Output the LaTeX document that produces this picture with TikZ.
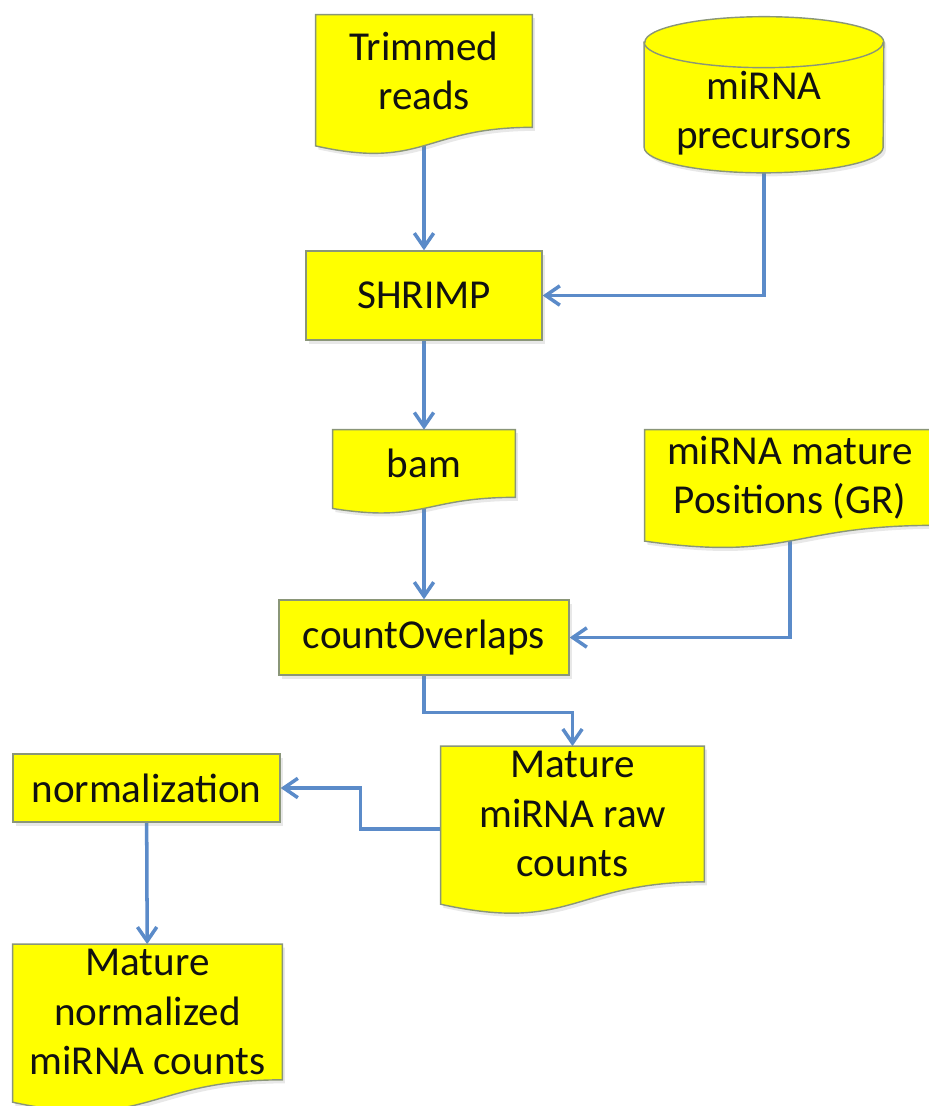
\documentclass[tikz,border=0pt]{standalone}
\usepackage{fontspec}
\setmainfont{Carlito}
\usepackage{tikz}
\usetikzlibrary{arrows.meta,positioning,calc,shapes.geometric,backgrounds,shadows}
\definecolor{ink}{HTML}{111111}
\definecolor{lemon}{HTML}{FFFF00}
\definecolor{rim}{HTML}{8A9678}
\definecolor{pipe}{HTML}{5B8BC9}
\colorlet{acc}{pipe}
\newcommand{\docshape}[1]{%
  \path[box] (#1.north west) -- (#1.north east) -- (#1.south east)
    .. controls (#1.south) and ($(#1.south)!-0.38!(#1.north)$)
    .. ($(#1.south west)!-0.165!(#1.north west)$) -- cycle;}
\newcommand{\drumshape}[1]{%
  \path[box] ([yshift=0.51cm]#1.north west) -- ([yshift=0.22cm]#1.south west)
    arc[start angle=180,end angle=360,x radius=2.39cm,y radius=0.51cm]
    -- ([yshift=0.51cm]#1.north east)
    arc[start angle=0,end angle=180,x radius=2.39cm,y radius=0.51cm] -- cycle;
  \draw[rim,line width=0.8pt] ([yshift=0.51cm]#1.north west)
    arc[start angle=180,end angle=360,x radius=2.39cm,y radius=0.51cm];}

\begin{document}
\begin{tikzpicture}[x=0.02cm,y=-0.02cm,
    font=\fontsize{23.4}{28}\selectfont,
    box/.style={draw=rim,line width=0.8pt,fill=lemon,
      drop shadow={shadow xshift=1.5pt,shadow yshift=-2pt,opacity=0.18}},
    proc/.style={box,rectangle,inner sep=0pt,align=center,text=ink},
    doc/.style={rectangle,inner sep=0pt,align=center,text=ink},
    flow/.style={acc,line width=2pt,-{Straight Barb[length=8pt,width=11pt]}}]
  \useasboundingbox (0,0) rectangle (929,1106);
  \node[doc,minimum width=4.32cm,minimum height=2.24cm] (trim) at (424,71) {Trimmed\\reads};
  \node[doc,minimum width=4.78cm,minimum height=1.8cm] (prec) at (764,113) {miRNA\\precursors};
  \node[proc,minimum width=4.72cm,minimum height=1.78cm] (shrimp) at (424,295.5) {SHRIMP};
  \node[doc,minimum width=3.64cm,minimum height=1.34cm] (bam) at (424,463.5) {bam};
  \node[doc,minimum width=5.8cm,minimum height=1.9cm] (pos) at (790,477.5) {miRNA mature\\Positions (GR)};
  \node[proc,minimum width=5.8cm,minimum height=1.5cm] (cov) at (424,637.5) {countOverlaps};
  \node[doc,minimum width=5.26cm,minimum height=2.7cm] (raw) at (572.5,814) {Mature\\miRNA raw\\counts};
  \node[proc,minimum width=5.34cm,minimum height=1.36cm] (norm) at (146.5,788) {normalization};
  \node[doc,minimum width=5.38cm,minimum height=2.7cm] (normd) at (147.5,1012) {Mature\\normalized\\miRNA counts};
  \begin{scope}[on background layer]
    \draw[flow] (trim) -- (shrimp);
    \draw[flow] (prec.south) |- (shrimp.east);
    \draw[flow] (shrimp) -- (bam);
    \draw[flow] (bam) -- (cov);
    \draw[flow] (pos.south) |- (cov.east);
    \draw[flow] (cov.south) -- ++(0,37) -| (raw.north);
    \draw[flow] ([yshift=-0.3cm]raw.west) -- ++(-80,0) |- (norm.east);
    \draw[flow] (norm) -- (normd);
    \drumshape{prec}
    \foreach \d in {trim,bam,pos,raw,normd} {\docshape{\d}}
  \end{scope}
\end{tikzpicture}
\end{document}
